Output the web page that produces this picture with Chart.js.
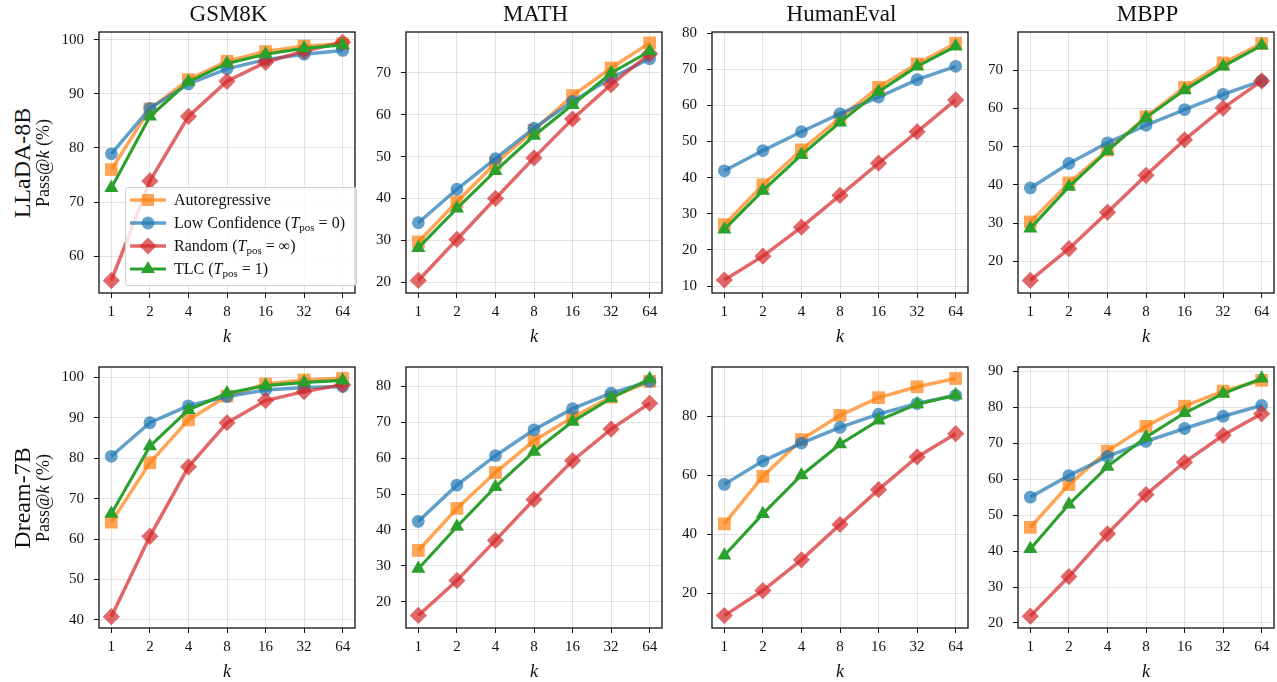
<!DOCTYPE html>
<html><head><meta charset="utf-8">
<script src="https://cdn.jsdelivr.net/npm/chart.js@4.4.1/dist/chart.umd.min.js"></script>
<style>
html,body{margin:0;padding:0;background:#fff;overflow:hidden;width:1277px;height:682px;}
#wrap{position:relative;width:1277px;height:682px;font-family:'Liberation Serif','Times New Roman',serif;color:#111;overflow:hidden;}
canvas{position:absolute;}
.title{position:absolute;font-size:23px;transform:translate(-50%,-50%);white-space:nowrap;line-height:1;}
.rowlab{position:absolute;transform:translate(-50%,-50%) rotate(-90deg);white-space:nowrap;line-height:1;}
.model{font-size:24px;}
.ylab{font-size:18px;}
#legend{position:absolute;left:125px;top:187px;width:230px;height:97px;border:1px solid #d0d0d0;border-radius:3px;background:rgba(255,255,255,0.8);z-index:5;font-size:16px;}
.lrow{position:absolute;left:3px;height:22px;display:flex;align-items:center;white-space:nowrap;}
.lrow svg{width:38px;height:22px;margin-right:7px;}
sub{font-size:11px;vertical-align:-3px;line-height:0;}
.eq{margin:0 4px;}
</style></head>
<body><div id="wrap"></div>
<script>
// ---------- data ----------
const kLabels = ['1','2','4','8','16','32','64'];
const benchmarks = ['GSM8K','MATH','HumanEval','MBPP'];
const models = ['LLaDA-8B','Dream-7B'];
const seriesNames = ['Autoregressive','Low Confidence (T_pos = 0)','Random (T_pos = ∞)','TLC (T_pos = 1)'];

// LLaDA-8B
const lladaGsm8kAR  = [76.0, 87.2, 92.6, 96.0, 97.8, 98.8, 99.2];
const lladaGsm8kLC  = [78.9, 87.3, 91.8, 94.6, 96.3, 97.3, 98.0];
const lladaGsm8kRND = [55.5, 73.9, 85.8, 92.3, 95.8, 97.9, 99.5];
const lladaGsm8kTLC = [72.6, 85.8, 92.2, 95.6, 97.3, 98.4, 99.0];

const lladaMathAR  = [29.6, 39.2, 48.4, 56.3, 64.6, 71.2, 77.2];
const lladaMathLC  = [34.2, 42.2, 49.5, 56.8, 63.2, 68.8, 73.4];
const lladaMathRND = [20.4, 30.2, 40.0, 49.7, 59.0, 67.2, 74.6];
const lladaMathTLC = [28.2, 37.6, 46.6, 55.0, 62.4, 70.0, 75.2];

const lladaHumanevalAR  = [27.0, 38.0, 47.7, 56.5, 65.0, 71.5, 77.2];
const lladaHumanevalLC  = [41.9, 47.5, 52.7, 57.7, 62.3, 67.1, 70.8];
const lladaHumanevalRND = [11.7, 18.3, 26.3, 35.1, 44.0, 52.7, 61.5];
const lladaHumanevalTLC = [25.7, 36.4, 46.3, 55.3, 63.8, 70.8, 76.3];

const lladaMbppAR  = [30.3, 40.5, 49.1, 57.8, 65.5, 71.9, 77.0];
const lladaMbppLC  = [39.2, 45.6, 51.0, 55.6, 59.7, 63.7, 67.2];
const lladaMbppRND = [15.0, 23.3, 32.8, 42.5, 51.8, 60.1, 67.2];
const lladaMbppTLC = [28.6, 39.5, 48.9, 57.6, 64.8, 71.0, 76.5];

// Dream-7B
const dreamGsm8kAR  = [64.2, 78.9, 89.5, 95.4, 98.4, 99.4, 99.8];
const dreamGsm8kLC  = [80.5, 88.8, 93.0, 95.3, 96.9, 97.5, 97.8];
const dreamGsm8kRND = [40.8, 60.7, 77.9, 88.8, 94.3, 96.5, 98.2];
const dreamGsm8kTLC = [66.3, 83.0, 92.0, 96.1, 98.0, 98.8, 99.3];

const dreamMathAR  = [34.3, 46.0, 56.0, 64.9, 71.4, 77.0, 81.4];
const dreamMathLC  = [42.4, 52.5, 60.7, 67.9, 73.8, 78.1, 81.4];
const dreamMathRND = [16.2, 25.9, 37.1, 48.5, 59.3, 68.1, 75.3];
const dreamMathTLC = [29.2, 40.9, 52.0, 61.8, 70.2, 76.7, 82.1];

const dreamHumanevalAR  = [43.5, 59.6, 72.1, 80.3, 86.3, 90.0, 92.8];
const dreamHumanevalLC  = [56.9, 64.8, 70.9, 76.2, 80.7, 84.3, 87.1];
const dreamHumanevalRND = [12.4, 20.9, 31.3, 43.3, 55.1, 66.2, 74.1];
const dreamHumanevalTLC = [32.8, 46.9, 60.0, 70.5, 78.6, 84.1, 87.1];

const dreamMbppAR  = [46.6, 58.5, 67.8, 74.7, 80.3, 84.5, 87.5];
const dreamMbppLC  = [55.0, 61.0, 66.3, 70.5, 74.1, 77.5, 80.5];
const dreamMbppRND = [21.9, 32.9, 44.8, 55.7, 64.7, 72.2, 78.2];
const dreamMbppTLC = [40.6, 53.0, 63.5, 71.7, 78.4, 83.8, 88.0];

// y tick labels per panel
const yTicksLlada = [[60,70,80,90,100],[20,30,40,50,60,70],[10,20,30,40,50,60,70,80],[20,30,40,50,60,70]];
const yTicksDream = [[40,50,60,70,80,90,100],[20,30,40,50,60,70,80],[20,40,60,80],[20,30,40,50,60,70,80,90]];
// y axis ranges per panel
const yRangeLlada = [[53.2,101.4],[17.4,79.8],[8.1,80.3],[11.7,80.0]];
const yRangeDream = [[38.0,102.6],[12.7,85.4],[8.2,96.7],[18.6,91.2]];

const panelsLlada = [
  [lladaGsm8kAR, lladaGsm8kLC, lladaGsm8kRND, lladaGsm8kTLC],
  [lladaMathAR, lladaMathLC, lladaMathRND, lladaMathTLC],
  [lladaHumanevalAR, lladaHumanevalLC, lladaHumanevalRND, lladaHumanevalTLC],
  [lladaMbppAR, lladaMbppLC, lladaMbppRND, lladaMbppTLC]];
const panelsDream = [
  [dreamGsm8kAR, dreamGsm8kLC, dreamGsm8kRND, dreamGsm8kTLC],
  [dreamMathAR, dreamMathLC, dreamMathRND, dreamMathTLC],
  [dreamHumanevalAR, dreamHumanevalLC, dreamHumanevalRND, dreamHumanevalTLC],
  [dreamMbppAR, dreamMbppLC, dreamMbppRND, dreamMbppTLC]];

// ---------- styles ----------
const FONT = "'Liberation Serif','Times New Roman',serif";
const colors = ['rgba(255,127,14,0.7)','rgba(31,119,180,0.7)','rgba(214,39,40,0.7)','rgba(44,160,44,1)'];
const lineWidths = [3.5,3.5,3.5,3.1];
const pStyles = ['rect','circle','rectRot','triangle'];
const pRadius = [9,6.4,8.6,8.2];
const orders = [4,3,2,1];
const lefts = [99,406,712,1018];
const tops = [32,367];
const PW = 259, PH = 261, YW = 60, PADT = 24, PADR = 6, XH = 55;

const frame = {
  id:'frame',
  afterDraw(chart){
    const a = chart.chartArea, ctx = chart.ctx;
    ctx.save(); ctx.strokeStyle='#111'; ctx.lineWidth=1.3;
    ctx.strokeRect(a.left, a.top, a.right-a.left, a.bottom-a.top);
    ctx.restore();
  }
};

const wrap = document.getElementById('wrap');

function makePanel(row, col, series, range, ticks){
  const cv = document.createElement('canvas');
  const W = YW + PW + PADR, H = PADT + PH + XH;
  cv.width = W; cv.height = H;
  cv.style.width = W+'px'; cv.style.height = H+'px';
  cv.style.left = (lefts[col]-YW)+'px'; cv.style.top = (tops[row]-PADT)+'px';
  wrap.appendChild(cv);
  new Chart(cv, {
    type:'line',
    data:{datasets: series.map((s,si)=>({
      label: seriesNames[si],
      data: s.map((v,i)=>({x:i,y:v})),
      borderColor: colors[si], backgroundColor: colors[si],
      borderWidth: lineWidths[si], pointStyle: pStyles[si],
      pointRadius: pRadius[si], pointHoverRadius: pRadius[si],
      pointBorderWidth: 0, order: orders[si], tension: 0, clip: false
    }))},
    options:{
      animation:false, responsive:false, devicePixelRatio:1, events:[],
      layout:{padding:{top:PADT,right:PADR,left:0,bottom:0}},
      plugins:{legend:{display:false}, tooltip:{enabled:false}},
      scales:{
        x:{type:'linear', min:-0.32, max:kLabels.length-1+0.32,
          afterBuildTicks:s=>{s.ticks = kLabels.map((_,i)=>({value:i}));},
          ticks:{callback:v=>kLabels[v], padding:5, autoSkip:false, maxRotation:0, color:'#111', font:{family:FONT,size:15}},
          grid:{color:'rgba(0,0,0,0.11)', lineWidth:1, tickColor:'#111', tickLength:5},
          border:{display:false},
          title:{display:true, text:'k', color:'#111', padding:0, font:{family:FONT,size:18,style:'italic'}},
          afterFit:s=>{s.height = XH;}
        },
        y:{type:'linear', min:range[0], max:range[1],
          afterBuildTicks:s=>{s.ticks = ticks.map(v=>({value:v}));},
          ticks:{padding:10, color:'#111', font:{family:FONT,size:15}},
          grid:{color:'rgba(0,0,0,0.11)', lineWidth:1, tickColor:'#111', tickLength:5},
          border:{display:false},
          afterFit:s=>{s.width = YW;}
        }
      }
    },
    plugins:[frame]
  });
}

for (let c=0;c<4;c++){
  makePanel(0,c,panelsLlada[c],yRangeLlada[c],yTicksLlada[c]);
  makePanel(1,c,panelsDream[c],yRangeDream[c],yTicksDream[c]);
  const t = document.createElement('div');
  t.className='title'; t.textContent = benchmarks[c];
  t.style.left = (lefts[c]+PW/2)+'px'; t.style.top = '13px';
  wrap.appendChild(t);
}
models.forEach((m,r)=>{
  const cy = tops[r]+PH/2;
  const a = document.createElement('div');
  a.className='rowlab model'; a.textContent = m;
  a.style.left='22px'; a.style.top = cy+'px';
  wrap.appendChild(a);
  const b = document.createElement('div');
  b.className='rowlab ylab'; b.innerHTML = 'Pass@<i>k</i> (%)';
  b.style.left='43px'; b.style.top = cy+'px';
  wrap.appendChild(b);
});

// legend
const legendHTML = ['Autoregressive',
  'Low Confidence (<i>T</i><sub>pos</sub><span class="eq">=</span>0)',
  'Random (<i>T</i><sub>pos</sub><span class="eq">=</span>∞)',
  'TLC (<i>T</i><sub>pos</sub><span class="eq">=</span>1)'];
function markerSVG(i){
  const c = colors[i];
  let m = '';
  if (i===0) m = `<rect x="13" y="5" width="12" height="12" fill="${c}"/>`;
  if (i===1) m = `<circle cx="19" cy="11" r="6.4" fill="${c}"/>`;
  if (i===2) m = `<polygon points="19,2.5 27.5,11 19,19.5 10.5,11" fill="${c}"/>`;
  if (i===3) m = `<polygon points="19,3 26,15 12,15" fill="${c}"/>`;
  return `<svg viewBox="0 0 38 22"><line x1="1" y1="11" x2="37" y2="11" stroke="${c}" stroke-width="${lineWidths[i]}"/>${m}</svg>`;
}
const lg = document.createElement('div'); lg.id='legend';
legendHTML.forEach((h,i)=>{
  const r = document.createElement('div'); r.className='lrow';
  r.style.top = (1 + i*23)+'px';
  r.innerHTML = markerSVG(i) + '<span>'+h+'</span>';
  lg.appendChild(r);
});
wrap.appendChild(lg);
</script>
</body></html>
